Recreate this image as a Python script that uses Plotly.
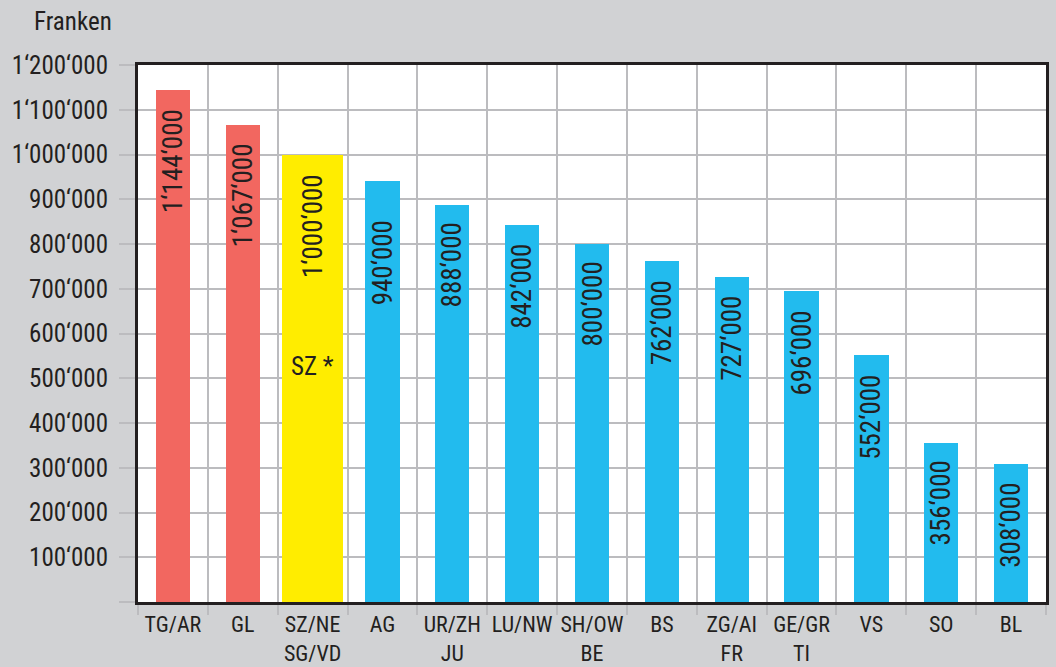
import plotly.graph_objects as go

categories = ["TG/AR", "GL", "SZ/NE<br>SG/VD", "AG", "UR/ZH<br>JU", "LU/NW", "SH/OW<br>BE",
              "BS", "ZG/AI<br>FR", "GE/GR<br>TI", "VS", "SO", "BL"]
values = [1144000, 1067000, 1000000, 940000, 888000, 842000, 800000,
          762000, 727000, 696000, 552000, 356000, 308000]
groups = ["high", "high", "ref", "low", "low", "low", "low", "low", "low", "low", "low", "low", "low"]
y_ticks = [0, 100000, 200000, 300000, 400000, 500000, 600000, 700000, 800000,
           900000, 1000000, 1100000, 1200000]
y_unit = "Franken"
ref_note = "SZ *"
ref_note_y = 527000

SEP = "\u2018"


def fmt(v):
    return f"{v:,}".replace(",", SEP)


color_map = {"high": "#f26760", "ref": "#ffed00", "low": "#22bbee"}
width_map = {"high": 0.49, "ref": 0.87, "low": 0.49}
colors = [color_map[g] for g in groups]
widths = [width_map[g] for g in groups]

FONT = "Liberation Sans Narrow, Roboto Condensed, DejaVu Sans Condensed, Arial Narrow, Roboto, sans-serif"
INK = "#231f20"
GRID = "#bcbcbf"
BG = "#d1d2d4"

fig = go.Figure()
fig.add_trace(go.Bar(
    x=categories, y=values, width=widths,
    marker=dict(color=colors, line=dict(width=0)),
    hoverinfo="x+y",
))

label_shift = [-17, -17, -18, -37, -16, -17, -16, -17, -17, -18, -18, -16, -17]
for c, v, s in zip(categories, values, label_shift):
    fig.add_annotation(x=c, y=v, text=fmt(v), textangle=-90, showarrow=False,
                       xanchor="center", yanchor="top", yshift=s,
                       font=dict(family=FONT, size=27, color=INK))

fig.add_annotation(x=categories[2], y=ref_note_y, text=ref_note, showarrow=False,
                   xanchor="center", yanchor="middle",
                   font=dict(family=FONT, size=25, color=INK))

fig.add_annotation(xref="paper", yref="paper", x=(114 - 138) / 908, y=(602 - 21) / 537,
                   text=y_unit, showarrow=False, xanchor="right", yanchor="middle",
                   font=dict(family=FONT, size=25, color=INK))

fig.update_layout(
    width=1056, height=667,
    margin=dict(l=138, r=10, t=65, b=65, autoexpand=False),
    paper_bgcolor=BG,
    plot_bgcolor="#ffffff",
    showlegend=False,
    bargap=0,
    font=dict(family=FONT, color=INK),
)
fig.update_xaxes(
    type="category", tickson="boundaries", automargin=False, tickangle=0,
    showgrid=True, gridcolor=GRID, gridwidth=2,
    showline=True, linecolor=INK, linewidth=3, mirror=True,
    ticks="outside", ticklen=10, tickwidth=2, tickcolor=GRID,
    ticklabelstandoff=1,
    tickfont=dict(family=FONT, size=22, color=INK),
    range=[-0.5, len(categories) - 0.5],
)
fig.update_yaxes(
    range=[0, 1200000], automargin=False,
    tickvals=y_ticks, ticktext=["" if t == 0 else fmt(t) for t in y_ticks],
    showgrid=True, gridcolor=GRID, gridwidth=2,
    showline=True, linecolor=INK, linewidth=3, mirror=True,
    ticks="outside", ticklen=16, tickwidth=2, tickcolor=GRID,
    ticklabelstandoff=6,
    tickfont=dict(family=FONT, size=25, color=INK),
    zeroline=False,
)

fig.write_html(
    "out.html",
    config={"displayModeBar": False},
    post_script="document.body.style.margin='0';document.body.style.background='" + BG + "';",
)
